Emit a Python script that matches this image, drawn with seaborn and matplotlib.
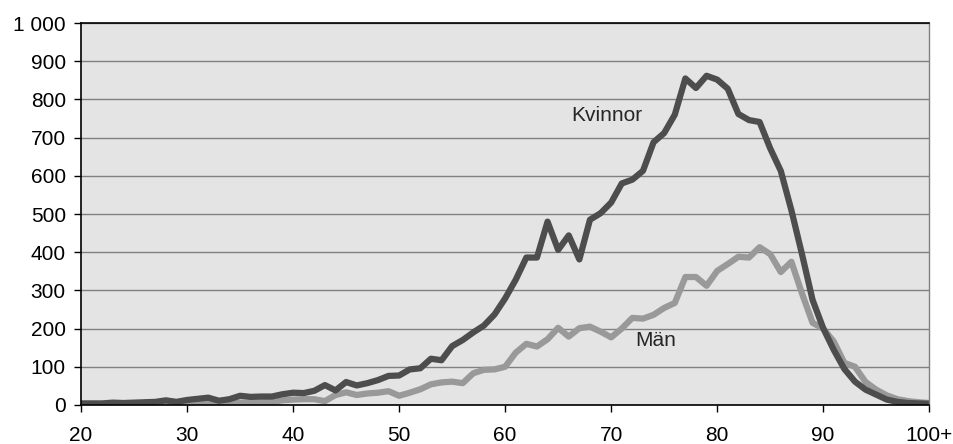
import matplotlib
matplotlib.use('Agg')
import matplotlib.pyplot as plt
import matplotlib.ticker as mticker
import pandas as pd
import seaborn as sns

# data
ages = list(range(20, 101))
kvinnor = [4, 4, 4, 6, 5, 6, 7, 8, 12, 8,
           13, 16, 19, 11, 15, 24, 21, 22, 22, 28,
           32, 31, 37, 52, 38, 60, 51, 57, 65, 76,
           77, 93, 96, 121, 117, 154, 170, 190, 208, 237,
           279, 328, 386, 386, 480, 406, 444, 381, 485, 502,
           530, 580, 590, 613, 688, 712, 760, 855, 830, 862,
           852, 828, 762, 746, 741, 672, 613, 510, 395, 275,
           201, 144, 94, 61, 40, 27, 14, 8, 5, 4,
           3]
man = [1, 1, 1, 1, 1, 2, 2, 2, 2, 2,
       3, 3, 4, 3, 4, 6, 6, 7, 8, 12,
       14, 15, 15, 10, 26, 33, 26, 30, 32, 36,
       24, 32, 41, 54, 59, 61, 57, 83, 92, 93,
       100, 137, 160, 153, 172, 202, 179, 201, 205, 192,
       177, 200, 228, 226, 236, 254, 267, 335, 335, 312,
       351, 369, 388, 386, 413, 395, 348, 375, 292, 215,
       200, 166, 110, 100, 60, 40, 25, 15, 10, 7,
       5]
xtick_pos = [20, 30, 40, 50, 60, 70, 80, 90, 100]
xtick_labels = ['20', '30', '40', '50', '60', '70', '80', '90', '100+']

df = pd.DataFrame({'alder': ages, 'Kvinnor': kvinnor, 'Män': man})

sns.set_style('white')
plt.rcParams['font.family'] = ['Liberation Sans', 'DejaVu Sans']
plt.rcParams['font.size'] = 15

fig, ax = plt.subplots(figsize=(9.54, 4.44), dpi=100)
fig.subplots_adjust(left=0.085, right=0.974, top=0.948, bottom=0.088)
ax.set_facecolor('#E4E4E4')

sns.lineplot(data=df, x='alder', y='Män', color='#999999', linewidth=4.5, ax=ax)
sns.lineplot(data=df, x='alder', y='Kvinnor', color='#4D4D4D', linewidth=4.5, ax=ax)

ax.set_xlim(20, 100)
ax.set_ylim(0, 1000)
ax.set_xticks(xtick_pos)
ax.set_xticklabels(xtick_labels)
ax.set_yticks(range(0, 1001, 100))
ax.yaxis.set_major_formatter(mticker.FuncFormatter(lambda v, p: '{:,.0f}'.format(v).replace(',', ' ')))
ax.set_xlabel('')
ax.set_ylabel('')

ax.grid(axis='y', color='#808080', linewidth=1)
ax.set_axisbelow(True)
ax.tick_params(axis='both', direction='out', length=5, width=1, color='black',
               labelsize=15, labelcolor='black')
ax.tick_params(axis='x', pad=10)
ax.tick_params(axis='y', pad=6)
ax.tick_params(left=True, bottom=True)
for side in ['left', 'bottom', 'top']:
    ax.spines[side].set_color('black')
    ax.spines[side].set_linewidth(1.2)
ax.spines['right'].set_color('#808080')
ax.spines['right'].set_linewidth(1)

ax.text(66.2, 757, 'Kvinnor', fontsize=15, va='center', ha='left')
ax.text(72.3, 168, 'Män', fontsize=15, va='center', ha='left')

plt.savefig('out.png', dpi=100)
